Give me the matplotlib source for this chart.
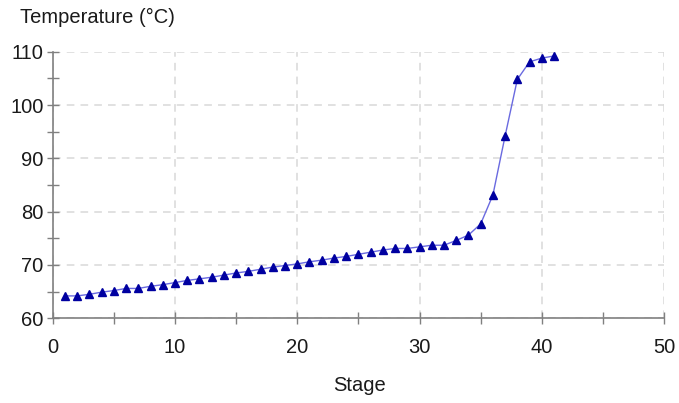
import matplotlib
matplotlib.use("Agg")
import matplotlib.pyplot as plt
from matplotlib.ticker import MultipleLocator

plt.rcParams['font.family'] = ['Liberation Sans', 'DejaVu Sans']

stages = list(range(1, 42))
temperature = [64.2, 64.2, 64.5, 64.9, 65.2, 65.6, 65.6, 66.0, 66.3, 66.7,
               67.1, 67.4, 67.7, 68.1, 68.5, 68.8, 69.2, 69.6, 69.9, 70.2,
               70.6, 70.9, 71.3, 71.6, 72.0, 72.4, 72.8, 73.1, 73.1, 73.4,
               73.7, 73.7, 74.6, 75.6, 77.7, 83.1, 94.2, 104.8, 108.1, 108.8,
               109.2]
x_label = "Stage"
y_label = "Temperature (°C)"

fig = plt.figure(figsize=(6.79, 4.03), dpi=100)
ax = fig.add_axes([0.0776, 0.2102, 0.9004, 0.6615])

ax.plot(stages, temperature, color='#6a6ae0', lw=1.0, zorder=3)
ax.plot(stages, temperature, ls='none', marker='^', ms=5.5,
        color='#0000a0', mec='#0000a0', zorder=4)

ax.set_xlim(0, 50)
ax.set_ylim(60, 110)
ax.xaxis.set_major_locator(MultipleLocator(10))
ax.xaxis.set_minor_locator(MultipleLocator(5))
ax.yaxis.set_major_locator(MultipleLocator(10))
ax.yaxis.set_minor_locator(MultipleLocator(5))

ax.grid(True, which='major', color='#d9d9d9', ls=(0, (5, 4)), lw=1.1)
ax.set_axisbelow(True)

for s in ['top', 'right']:
    ax.spines[s].set_visible(False)
for s in ['left', 'bottom']:
    ax.spines[s].set_color('#808080')
    ax.spines[s].set_linewidth(1.2)

ax.tick_params(which='both', direction='inout', color='#808080', width=1.0)
ax.tick_params(which='major', length=9, labelsize=14.5, labelcolor='#1a1a1a')
ax.tick_params(axis='x', which='major', pad=10)
ax.tick_params(axis='y', which='major', pad=2)
ax.tick_params(which='minor', length=9)

fig.text(0.029, 0.957, y_label, fontsize=14.5, color='#1a1a1a', ha='left', va='center')
fig.text(0.53, 0.043, x_label, fontsize=14.5, color='#1a1a1a', ha='center', va='center')

fig.savefig('out.png', dpi=100)
